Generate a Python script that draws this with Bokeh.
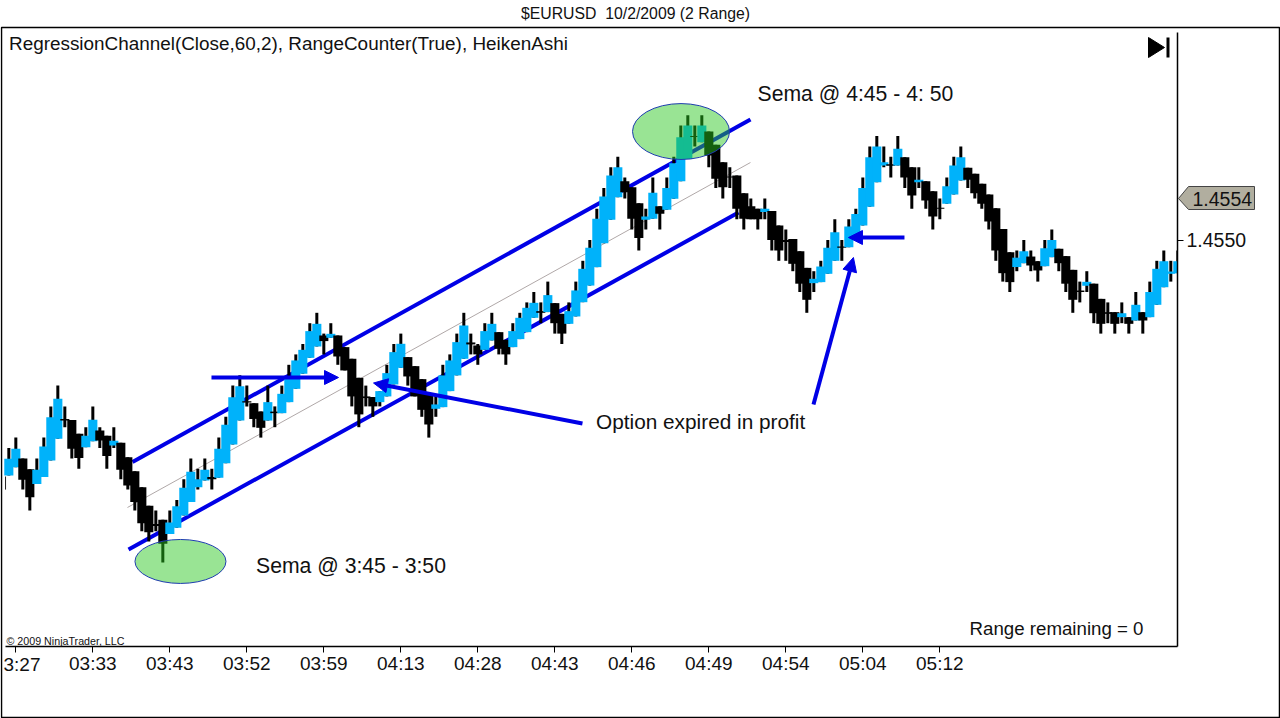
from bokeh.embed import file_html
from bokeh.resources import INLINE
from bokeh.plotting import figure
from bokeh.models import (ColumnDataSource, Range1d, FixedTicker, NumeralTickFormatter, Label,
                          Arrow, NormalHead, BoxAnnotation, PolyAnnotation)

# ---------- data (price offsets in pips from 1.4550) ----------
base_price = 1.4550
pip = 0.0001
high_pips = [
 -20,-19,-21,-22.04,-21,-19,-16,-14,-16,-17.3,
 -18.64,-18,-16,-18,-18.83,-18,-19.5,-20.88,-22.23,-23.77,
 -25.56,-26,-26.9,-26,-25,-23,-21,-22,-21,-22,
 -19,-17,-14,-13,-14,-15.69,-16.49,-14,-16,-14,
 -12,-11,-10,-8,-7,-9,-8,-9.18,-10.3,-11.42,
 -13.25,-14,-15.1,-14.53,-12,-10,-9,-11.26,-12.13,-13.38,
 -14.79,-15,-12,-11,-9,-7,-9,-10,-8,-7,
 -8.86,-9.6,-8,-7,-6,-5,-6,-4,-6.07,-7.1,
 -6,-4,-2,0,3,5,7,8,6,5.08,
 3.54,3,6,3.25,6,8,11,12,11,12,
 10.43,9.15,7.48,7,6.2,4.5,4,3,4,2.8,
 1.4,1,0.1,-1.07,-2.68,-3,-2,0,2,0,
 2,3,6,9,10,9,8,10,7.96,7,
 7,5.66,4.7,4,6,8,9,6.94,6.36,5.4,
 4.37,3.06,1.07,-1.17,-1,0,-1,-2.04,0,1,
 -0.85,-1.55,-2.87,-4,-3,-4.2,-5.66,-6,-6.94,-6,
 -7.42,-5,-6.94,-4,-2,-1,-2,-1]
top_pips = [
 -21.04,-20.08,-21,-22.04,-22.1,-19.86,-17.04,-15.27,-17.2,-17.3,
 -18.64,-18.83,-17.29,-18.32,-18.83,-19.31,-19.5,-20.88,-22.23,-23.77,
 -25.56,-27.3,-26.9,-27.17,-25.6,-23.83,-22.29,-23,-22.1,-22.8,
 -20.08,-17.77,-15.11,-14.06,-15.5,-15.69,-16.49,-15.59,-16.5,-14.79,
 -13.19,-11.58,-10.56,-8.76,-8.06,-9.18,-9.02,-9.18,-10.3,-11.42,
 -13.25,-15.04,-15.1,-14.53,-12.8,-10.78,-9.98,-11.26,-12.13,-13.38,
 -14.79,-15.81,-13.02,-11.58,-9.82,-8.22,-9.85,-10.14,-8.76,-8.06,
 -8.86,-9.6,-8.76,-7.48,-6.52,-6.04,-6.84,-5.3,-6.07,-7.1,
 -6.84,-4.85,-2.77,-0.75,2.04,4.18,6.2,7,5.66,5.08,
 3.54,2.26,4.54,3.25,5,7.39,9.89,11,10,11,
 10.43,9.15,7.48,6.1,6.2,4.5,3.25,3,3,2.8,
 1.4,0,0.1,-1.07,-2.68,-3.73,-2.55,-0.75,0.75,-0.63,
 1.3,2.5,5,7.96,9,7.48,7.29,8.77,7.96,7,
 5.8,5.66,4.7,3.1,5.18,7.16,7.96,6.94,6.36,5.4,
 4.37,3.06,1.07,-1.17,-1.7,-1.07,-1.59,-2.04,-0.79,0,
 -0.85,-1.55,-2.87,-4.86,-4.02,-4.2,-5.66,-6.94,-6.94,-7.04,
 -7.42,-6.23,-6.94,-5,-2.77,-2.04,-3.03,-2.04]
bottom_pips = [
 -22.65,-21.85,-23.06,-24.73,-23.45,-22.8,-21.2,-19.12,-17.36,-20.08,
 -20.95,-19.92,-19.34,-19.28,-20.76,-19.76,-22.1,-23.6,-25.2,-27.23,
 -28.1,-27.5,-29.2,-28.26,-27.68,-26.5,-25.2,-23.77,-23.13,-23,
 -22.87,-21.46,-19.67,-17.36,-15.63,-17.2,-18.06,-17.36,-16.65,-16.65,
 -15.59,-14.31,-12.86,-11.33,-10.24,-9.72,-9.4,-11.2,-12.54,-15.04,
 -16.77,-15.2,-16,-15.59,-15.04,-13.89,-12.29,-13.12,-15.04,-16.33,
 -17.74,-16.23,-16.07,-14.53,-13.02,-11.42,-10.04,-11,-10.56,-9.66,
 -10.46,-11,-10.3,-9.53,-8.86,-7.48,-7,-6.93,-8,-9,
 -8.06,-7.35,-5.98,-4.38,-2.61,-0.3,1.94,4.12,4.6,2.04,
 0.2,1.94,2.04,2.52,2.9,3.96,5.66,7.8,9.9,9.4,
 8.13,5.88,5.08,6,3,2.04,2,2,2.7,0,
 -1,-0.2,-2.29,-4.2,-5.75,-4.15,-4.05,-3.25,-2,-0.75,
 -0.69,0.43,1.4,3.2,5.56,7.16,7.13,7.16,6,4.28,
 5.56,3.8,2.26,3,3.48,4.37,5.72,5.8,4.5,3.48,
 1.78,-1,-3.19,-4.05,-2.6,-2.23,-2.45,-2.93,-2.52,-1.65,
 -2.23,-4.2,-5.75,-5,-4.4,-7.04,-8.06,-7.1,-8.06,-7.42,
 -8.06,-7.74,-7.74,-7.42,-6.23,-4.54,-3.25,-3.19]
low_pips = [
 -22.65,-21.85,-24,-26,-23.45,-22.8,-21.2,-19.12,-18,-21,
 -22,-19.92,-19.34,-20,-22,-20,-23,-24,-26,-28,
 -29,-28,-31,-28.26,-27.68,-26.5,-25.2,-24,-23.13,-24,
 -22.87,-21.46,-19.67,-17.36,-16,-18,-19,-17.36,-18,-16.65,
 -15.59,-14.31,-12.86,-11.33,-10.24,-11,-9.4,-12,-12.54,-16,
 -18,-16,-17,-16,-15.04,-13.89,-12.29,-14,-15.04,-17,
 -19,-17,-16.07,-14.53,-13.02,-11.42,-11,-12,-10.56,-9.66,
 -11,-12,-10.3,-9.53,-8.86,-7.48,-8,-6.93,-9,-10,
 -8.06,-7.35,-5.98,-4.38,-2.61,-0.3,1.94,4.12,4,1,
 -1,1,2.04,1,2.9,3.96,5.66,7.8,9,9.4,
 7,5,4,5,2,1,2,1,2,-1,
 -2,-2,-3,-5,-7,-5,-4.05,-3.25,-2,-2,
 -0.69,0.43,1.4,3.2,5.56,7,6,7.16,5,3,
 5,3,1,2,3.48,4.37,5.72,5,4,3,
 1,-2,-4,-5,-3,-2.23,-3,-4,-2.52,-1.65,
 -3,-5,-7,-6,-5,-8,-9,-8,-9,-8,
 -9,-7.74,-9,-7.42,-6.23,-4.54,-4,-3.19]
rising = [
 1,1,0,0,1,1,1,1,0,0, 0,1,1,0,0,1,0,0,0,0, 0,0,0,1,1,1,1,1,1,0,
 1,1,1,1,0,0,0,1,0,1, 1,1,1,1,1,0,1,0,0,0, 0,0,0,1,1,1,1,0,0,0,
 0,1,1,1,1,1,0,0,1,1, 0,0,1,1,1,1,0,1,0,0, 1,1,1,1,1,1,1,1,0,0,
 0,1,1,0,1,1,1,1,0,1, 0,0,0,0,0,0,0,0,1,0, 0,0,0,0,0,1,1,1,1,0,
 1,1,1,1,1,1,0,1,0,0, 1,0,0,0,1,1,1,0,0,0, 0,0,0,0,1,1,0,0,1,1,
 0,0,0,0,1,0,0,0,0,1, 0,1,0,1,1,1,1,1]
tick_bars = [1, 12, 23, 34, 45, 56, 67, 78, 89, 100, 111, 122, 133]
tick_labels = ["3:27","03:33","03:43","03:52","03:59","04:13","04:28",
               "04:43","04:46","04:49","04:54","05:04","05:12"]
last_price_label = "1.4554"
# wick remnant of the bar cut off at the left edge
stub_x, stub_top, stub_bottom = -0.47, -22.74, -24.0
# regression channel: (bar, pips) end points
upper_x, upper_y = [17.67, 105.95], [-21.35, 11.59]
middle_x, middle_y = [16.95, 105.95], [-25.72, 7.45]
lower_x, lower_y = [17.1, 104.24], [-29.76, 2.64]
# sema ellipses
ell_x, ell_y, ell_w, ell_h = [24.52, 96.03], [-30.91, 10.43], [13.0, 13.86], [4.23, 5.38]
# arrows: bar0, pips0, bar1, pips1
arrows = [(28.95,-13.22,47.1,-13.22,4),(81.95,-17.64,52.1,-13.75,4),
          (127.95,0.24,119.95,0.24,4),(114.95,-15.82,120.66,-1.68,4)]
# axis positions and visible window (bars / pips)
axis_bar, axis_pips = 166.95, -39.09
axis_start_bar, axis_top_pips = -0.47, 19.95
window_x, window_y = (-1.19, 181.67), (-46.01, 23.03)

def price(v):
    return base_price + v * pip

FONT = "Liberation Sans"
CYAN = "#00B2FA"
BLUE = "#0000E6"
INK = "#111111"

src = ColumnDataSource(dict(
    x=list(range(len(rising))),
    hi=[price(v) for v in high_pips], lo=[price(v) for v in low_pips],
    top=[price(v) for v in top_pips], bot=[price(v) for v in bottom_pips],
    col=[CYAN if r else "#000000" for r in rising]))

p = figure(width=1280, height=718, output_backend="svg", toolbar_location=None,
           x_range=Range1d(*window_x), y_range=Range1d(price(window_y[0]), price(window_y[1])),
           y_axis_location="right", min_border=0)
p.grid.visible = False
p.outline_line_color = None
p.background_fill_color = "white"

p.xaxis.ticker = FixedTicker(ticks=tick_bars)
overrides = dict(zip(tick_bars, tick_labels))
overrides[tick_bars[0]] = ""   # the first label is cut by the chart's left edge: placed below
p.xaxis.major_label_overrides = overrides
p.xaxis.fixed_location = price(axis_pips)
p.xaxis.bounds = (axis_start_bar, axis_bar)
p.yaxis.ticker = FixedTicker(ticks=[base_price])
p.yaxis.formatter = NumeralTickFormatter(format="0.0000")
p.yaxis.fixed_location = axis_bar
p.yaxis.bounds = (price(axis_pips), price(axis_top_pips))
for ax in (p.xaxis[0], p.yaxis[0]):
    ax.axis_line_color = "black"
    ax.axis_line_width = 1.5
    ax.major_tick_line_color = "black"
    ax.major_tick_out = 6
    ax.major_tick_in = 0
    ax.minor_tick_line_color = None
    ax.major_label_text_font = FONT
    ax.major_label_text_font_size = "19px"
    ax.major_label_text_color = INK
p.xaxis.major_label_standoff = 0
p.yaxis.major_label_text_font_size = "19.5px"
p.yaxis.major_label_standoff = 3

for xs, ys, w, c in ((upper_x, upper_y, 4, BLUE), (lower_x, lower_y, 4, BLUE),
                     (middle_x, middle_y, 1, "#B0A8A8")):
    p.line(xs, [price(v) for v in ys], line_width=w, line_color=c)

p.segment(stub_x, price(stub_top), stub_x, price(stub_bottom), line_color="#222222", line_width=1)
p.segment("x", "hi", "x", "lo", source=src, line_color="black", line_width=3)
p.vbar("x", 1.3, "top", "bot", source=src, fill_color="col", line_color=None)
# the plot stops at the price axis: anything past it is hidden
p.quad(left=axis_bar, right=window_x[1], top=price(window_y[1]), bottom=price(window_y[0]),
       fill_color="white", line_color=None)

p.ellipse(ell_x, [price(v) for v in ell_y], width=ell_w, height=[h * pip for h in ell_h],
          fill_color="#2AC61F", fill_alpha=0.48, line_color="#1E3CB0", line_width=1)

for x0, y0, x1, y1, w in arrows:
    p.add_layout(Arrow(end=NormalHead(size=14, fill_color=BLUE, line_color=BLUE),
                       x_start=x0, y_start=price(y0), x_end=x1, y_end=price(y1),
                       line_color=BLUE, line_width=w))

def text(s, x, y, size, align="left", color=INK):
    p.add_layout(Label(x=x, y=y, x_units="canvas", y_units="canvas", text=s, text_font=FONT,
                       text_font_size=size, text_color=color, text_align=align,
                       text_baseline="middle", level="overlay"))

# frame, last-price marker and jump-to-end button
p.add_layout(BoxAnnotation(left=1, right=1279, top=27, bottom=717, left_units="canvas",
                           right_units="canvas", top_units="canvas", bottom_units="canvas",
                           fill_alpha=0, line_color="black", line_alpha=1, line_width=1.5,
                           level="overlay"))
p.add_layout(PolyAnnotation(xs=[1178, 1188, 1254, 1254, 1188], ys=[198, 186, 186, 209, 209],
                            xs_units="canvas", ys_units="canvas", fill_color="#B1AE9F",
                            fill_alpha=1, line_color="#444444", line_alpha=1, line_width=1,
                            level="overlay"))
text(last_price_label, 1192, 198, "19.5px")
p.add_layout(PolyAnnotation(xs=[1148, 1164, 1148], ys=[37, 47, 57], xs_units="canvas",
                            ys_units="canvas", fill_color="black", fill_alpha=1, line_color="black",
                            line_alpha=1, level="overlay"))
p.add_layout(BoxAnnotation(left=1166, right=1169, top=37, bottom=57, left_units="canvas",
                           right_units="canvas", top_units="canvas", bottom_units="canvas",
                           fill_color="black", fill_alpha=1, line_color="black", line_width=0, level="overlay"))

text(tick_labels[0], 3, 664, "19px")
text("$EURUSD\u00a0 10/2/2009 (2 Range)", 635, 13, "15.8px", "center")
text("RegressionChannel(Close,60,2), RangeCounter(True), HeikenAshi", 8.5, 43, "18.9px")
text("Sema @ 4:45 - 4: 50", 757, 93, "21.2px")
text("Sema @ 3:45 - 3:50", 255.5, 565, "21.2px")
text("Option expired in profit", 595.5, 421, "20.8px")
text("Range remaining = 0", 969, 628, "18.7px")
text("\u00a9 2009 NinjaTrader, LLC", 6, 640, "10.7px")

open("out.html", "w").write(file_html(p, INLINE))
